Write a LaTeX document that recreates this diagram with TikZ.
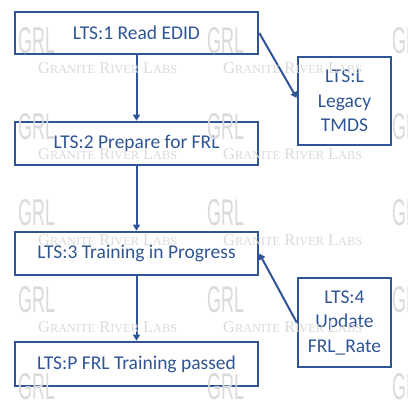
\documentclass[tikz,border=0pt]{standalone}
\usepackage{fontspec}
\setmainfont{Carlito}
\newfontfamily\wmsans{Liberation Sans}
\newfontfamily\wmserif{Liberation Serif}
\usetikzlibrary{arrows.meta}
\definecolor{ltsblue}{HTML}{2F5597}
\definecolor{wmgray}{HTML}{DADADA}
\newcommand{\wmsmall}[1]{{\fontsize{7.5}{9}\selectfont #1}}
\newcommand{\wmlabel}{\wmserif\fontsize{10}{12}\selectfont G\wmsmall{RANITE} R\wmsmall{IVER} L\wmsmall{ABS}}
\tikzset{
  stepbox/.style={draw=ltsblue, line width=2.6pt, text=ltsblue, minimum width=243pt, inner sep=0pt,
    font=\fontsize{19.5}{24}\selectfont},
  sidebox/.style={draw=ltsblue, line width=2.6pt, text=ltsblue, minimum width=93pt, inner sep=0pt,
    align=center, font=\fontsize{19.5}{24.5}\selectfont},
  conn/.style={draw=ltsblue, line width=2pt, -{Triangle[length=6pt,width=7pt]}},
  wmlogo/.style={anchor=north west, inner sep=0pt, text=wmgray},
  wmtext/.style={anchor=north west, inner sep=0pt, text=wmgray}
}
\begin{document}
\begin{tikzpicture}[x=1pt,y=1pt]
\useasboundingbox (0,0) rectangle (408,-401);
\node[stepbox, minimum height=42pt] (b1) at (136.5,-33) {LTS:1 Read EDID};
\node[stepbox, minimum height=43pt] (b2) at (136.5,-143.5) {LTS:2 Prepare for FRL};
\node[stepbox, minimum height=43pt] (b3) at (136.5,-253.5) {LTS:3 Training in Progress};
\node[stepbox, minimum height=44pt] (bp) at (136.5,-364) {LTS:P FRL Training passed};
\node[sidebox, minimum height=88pt] (bl) at (344.5,-101) {LTS:L\\Legacy\\TMDS};
\node[sidebox, minimum height=89pt] (b4) at (344.5,-322.5) {LTS:4\\Update\\FRL\_Rate};
\draw[conn] (b1) -- (b2);
\draw[conn] (b2) -- (b3);
\draw[conn] (b3) -- (bp);
\draw[conn] (b1.east) -- ([yshift=3pt]bl.west);
\draw[conn] (b4.west) -- (b3.east);
% watermark
\foreach \cx in {18, 207, 392} {
  \foreach \ry in {27, 113, 199, 286, 373} {
    \node[wmlogo] (g-\cx-\ry) at (\cx,-\ry) {\resizebox{37pt}{26pt}{\wmsans GRL}};
  }
}
\foreach \tx in {38, 223} {
  \foreach \ry in {27, 113, 199, 286} {
    \node[wmtext] (t-\tx-\ry) at (\tx,-\ry-35) {\resizebox{139pt}{!}{\wmlabel}};
  }
}
\end{tikzpicture}
\end{document}
